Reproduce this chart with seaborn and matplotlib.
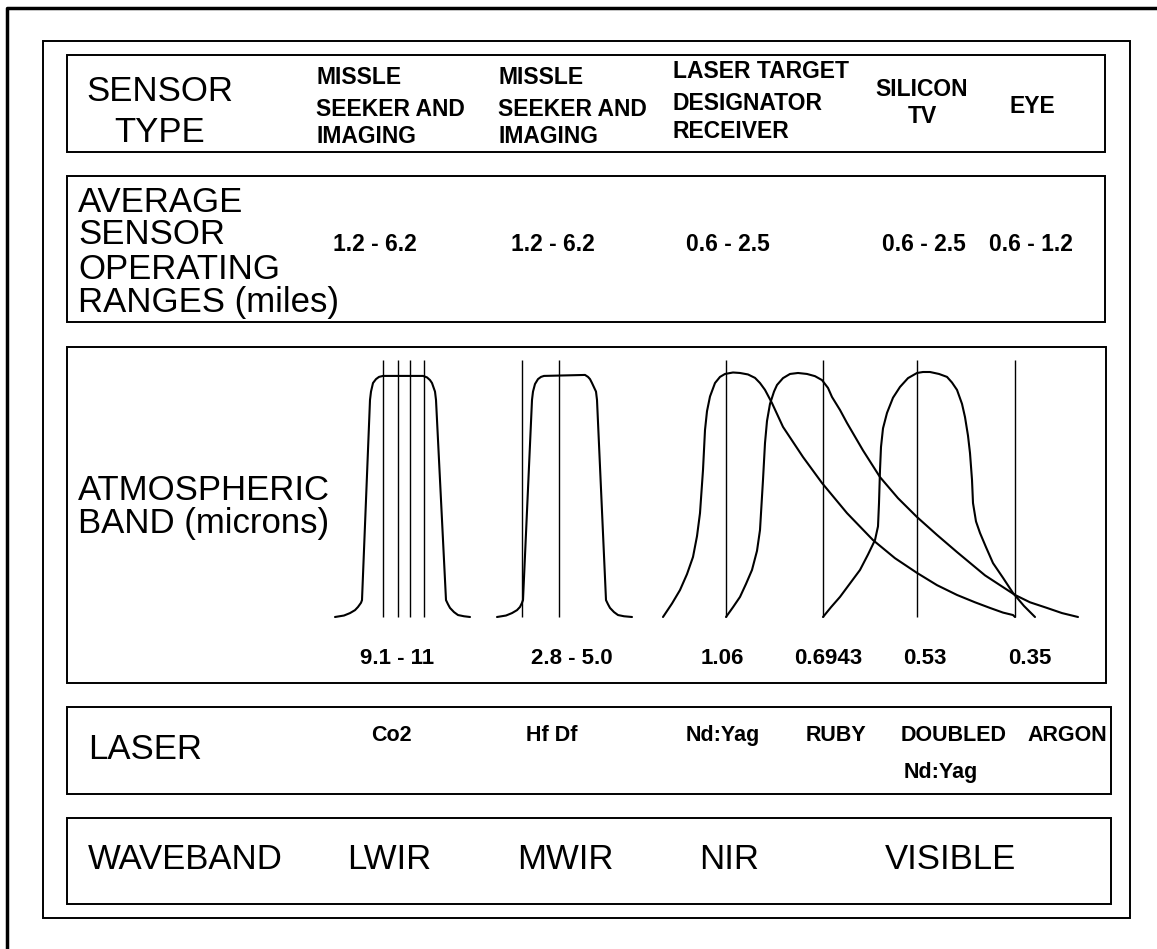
import matplotlib
matplotlib.use("Agg")
import matplotlib.pyplot as plt
import seaborn as sns
import pandas as pd
from matplotlib.patches import Rectangle

# ---------------- data ----------------
sensor_types = [["MISSLE", "SEEKER AND", "IMAGING"],
                ["MISSLE", "SEEKER AND", "IMAGING"],
                ["LASER TARGET", "DESIGNATOR", "RECEIVER"],
                ["SILICON", "TV"],
                ["EYE"]]
operating_ranges = ["1.2 - 6.2", "1.2 - 6.2", "0.6 - 2.5", "0.6 - 2.5", "0.6 - 1.2"]
band_labels = ["9.1 - 11", "2.8 - 5.0", "1.06", "0.6943", "0.53", "0.35"]
laser_names = ["Co2", "Hf Df", "Nd:Yag", "RUBY", "DOUBLED", "ARGON"]
laser_sub = ["", "", "", "", "Nd:Yag", ""]
wavebands = ["LWIR", "MWIR", "NIR", "VISIBLE"]

# schematic transmission curves (horizontal position units, relative transmission)
lwir_pos = [335, 344, 350, 355, 358, 361, 362, 370, 371, 373, 376, 379, 383, 423, 427, 430,
            432, 435, 436, 446, 448, 450, 454, 458, 464, 470]
lwir_tr = [0, 0.006, 0.016, 0.028, 0.041, 0.058, 0.069, 0.886, 0.920, 0.955, 0.971, 0.980,
           0.984, 0.984, 0.978, 0.967, 0.955, 0.920, 0.886, 0.069, 0.052, 0.037, 0.020,
           0.008, 0.003, 0]
mwir_pos = [497, 506, 512, 517, 520, 522, 523, 532, 533, 535, 538, 541, 544, 585, 588, 590,
            592, 596, 597, 606, 608, 610, 614, 618, 624, 632]
mwir_tr = [0, 0.006, 0.016, 0.028, 0.041, 0.058, 0.069, 0.886, 0.920, 0.951, 0.971, 0.980,
           0.984, 0.988, 0.980, 0.971, 0.955, 0.920, 0.886, 0.069, 0.052, 0.037, 0.020,
           0.008, 0.003, 0]
nir_pos = [663, 672, 680, 687, 693, 697, 700, 703, 705, 707, 710, 715, 720, 725, 733, 740,
           748, 755, 760, 765, 772, 783, 803, 822, 847, 873, 895, 917, 937, 957, 975, 990,
           1003, 1013, 1015]
nir_tr = [0, 0.055, 0.110, 0.175, 0.245, 0.330, 0.424, 0.600, 0.763, 0.840, 0.900, 0.955,
          0.980, 0.992, 0.998, 0.996, 0.990, 0.976, 0.955, 0.927, 0.873, 0.776, 0.653, 0.547,
          0.424, 0.314, 0.240, 0.180, 0.130, 0.090, 0.060, 0.037, 0.018, 0.008, 0]
ruby_pos = [726, 733, 740, 746, 752, 757, 760, 763, 765, 767, 770, 774, 777, 783, 790, 798,
            807, 815, 822, 828, 832, 840, 847, 863, 880, 898, 917, 937, 957, 985, 1015, 1030,
            1047, 1062, 1078]
ruby_tr = [0, 0.040, 0.082, 0.135, 0.192, 0.270, 0.355, 0.560, 0.710, 0.800, 0.870, 0.920,
           0.947, 0.975, 0.992, 0.996, 0.992, 0.983, 0.967, 0.935, 0.898, 0.845, 0.792,
           0.680, 0.571, 0.485, 0.408, 0.335, 0.265, 0.170, 0.090, 0.060, 0.037, 0.016, 0]
vis_pos = [823, 831, 840, 850, 860, 868, 875, 878, 879, 880, 881, 883, 887, 893, 900, 908,
           917, 923, 930, 939, 947, 952, 957, 962, 965, 968, 970, 972, 973, 976, 980, 986,
           993, 1003, 1013, 1024, 1035]
vis_tr = [0, 0.040, 0.082, 0.137, 0.192, 0.255, 0.314, 0.370, 0.465, 0.600, 0.694, 0.770,
          0.833, 0.895, 0.939, 0.975, 0.996, 1.0, 1.0, 0.992, 0.980, 0.957, 0.927, 0.870,
          0.816, 0.740, 0.669, 0.560, 0.465, 0.390, 0.343, 0.285, 0.220, 0.160, 0.098,
          0.045, 0]
laser_lines = [383, 398, 410, 424, 522, 559, 726, 823, 917, 1015]

# ---------------- figure ----------------
sns.set_theme(style="white")
plt.rcParams['font.family'] = ['Liberation Sans', 'DejaVu Sans']

W, H = 1157, 949
fig = plt.figure(figsize=(W / 100, H / 100), dpi=100)
fig.patch.set_facecolor("white")
ax = fig.add_axes([0, 0, 1, 1])
ax.set_xlim(0, W)
ax.set_ylim(H, 0)
ax.axis("off")

# frames
ax.plot([7, 7, W], [H, 8, 8], color="black", lw=2.5, solid_capstyle="butt")
ax.add_patch(Rectangle((43, 41), 1087, 877, fill=False, ec="black", lw=1.4))
panels = [(67, 55, 1105, 152), (67, 176, 1105, 322), (67, 347, 1106, 683),
          (67, 707, 1111, 794), (67, 818, 1111, 904)]
for x0, y0, x1, y1 in panels:
    ax.add_patch(Rectangle((x0, y0), x1 - x0, y1 - y0, fill=False, ec="black", lw=1.4))

PX = 100 / 72.0


def txt(x, yc, s, size, ha="left", weight="normal"):
    # yc = vertical centre of the capital letters (pixels)
    base = yc + 0.358 * size * PX
    ax.text(x, base, s, ha=ha, va="baseline", fontsize=size, fontweight=weight, color="black")


BIG = 25
MID = 16.5
SMALL = 16

# left labels
txt(160, 89, "SENSOR", BIG, ha="center")
txt(160, 130, "TYPE", BIG, ha="center")
for yc, s in zip([200, 232, 267, 300], ["AVERAGE", "SENSOR", "OPERATING", "RANGES (miles)"]):
    txt(78, yc, s, BIG)
txt(78, 488, "ATMOSPHERIC", BIG)
txt(78, 521, "BAND (microns)", BIG)
txt(88, 747, "LASER", BIG)
txt(88, 857, "WAVEBAND", BIG)

# sensor types
col_layout = [(316, "left", [76, 108, 135]), (498, "left", [76, 108, 135]),
              (673, "left", [70, 102, 130]), (922, "center", [88, 115]),
              (1032, "center", [105])]
for lines, (x, ha, ys) in zip(sensor_types, col_layout):
    for s, yc in zip(lines, ys):
        txt(x, yc, s, MID, ha=ha, weight="bold")

# ranges
for s, x in zip(operating_ranges, [375, 553, 728, 924, 1031]):
    txt(x, 243, s, MID, ha="center", weight="bold")

# band labels
for s, x in zip(band_labels, [397, 572, 722, 828, 925, 1030]):
    txt(x, 656, s, SMALL, ha="center", weight="bold")

# lasers
for s, sub, x in zip(laser_names, laser_sub, [391, 552, 723, 836, 954, 1067]):
    txt(x, 733, s, 15.5, ha="center", weight="bold")
    if sub:
        txt(x - 13, 770, sub, 15.5, ha="center", weight="bold")

# wavebands
for s, x in zip(wavebands, [389, 565, 729, 950]):
    txt(x, 857, s, BIG, ha="center")

# ---------------- atmospheric band curves ----------------
base_px, top_px = 622, 360
bax = fig.add_axes([330 / W, (H - base_px) / H, 770 / W, (base_px - top_px) / H])
bax.set_xlim(330, 1100)
bax.set_ylim(-(base_px - 617) / 245, (617 - top_px) / 245)
bax.axis("off")
bax.patch.set_alpha(0)

curves = []
for name, p, t in [("LWIR", lwir_pos, lwir_tr), ("MWIR", mwir_pos, mwir_tr),
                   ("NIR", nir_pos, nir_tr), ("RUBY", ruby_pos, ruby_tr),
                   ("VIS", vis_pos, vis_tr)]:
    curves.append(pd.DataFrame({"band": name, "pos": p, "trans": t}))
df = pd.concat(curves, ignore_index=True)
sns.lineplot(data=df, x="pos", y="trans", units="band", estimator=None, sort=False,
             color="black", lw=1.5, ax=bax, legend=False)
bax.vlines(laser_lines, 0, (617 - top_px) / 245, color="black", lw=1.0)
bax.set_xlabel("")
bax.set_ylabel("")

fig.savefig("out.png", dpi=100, facecolor="white")
